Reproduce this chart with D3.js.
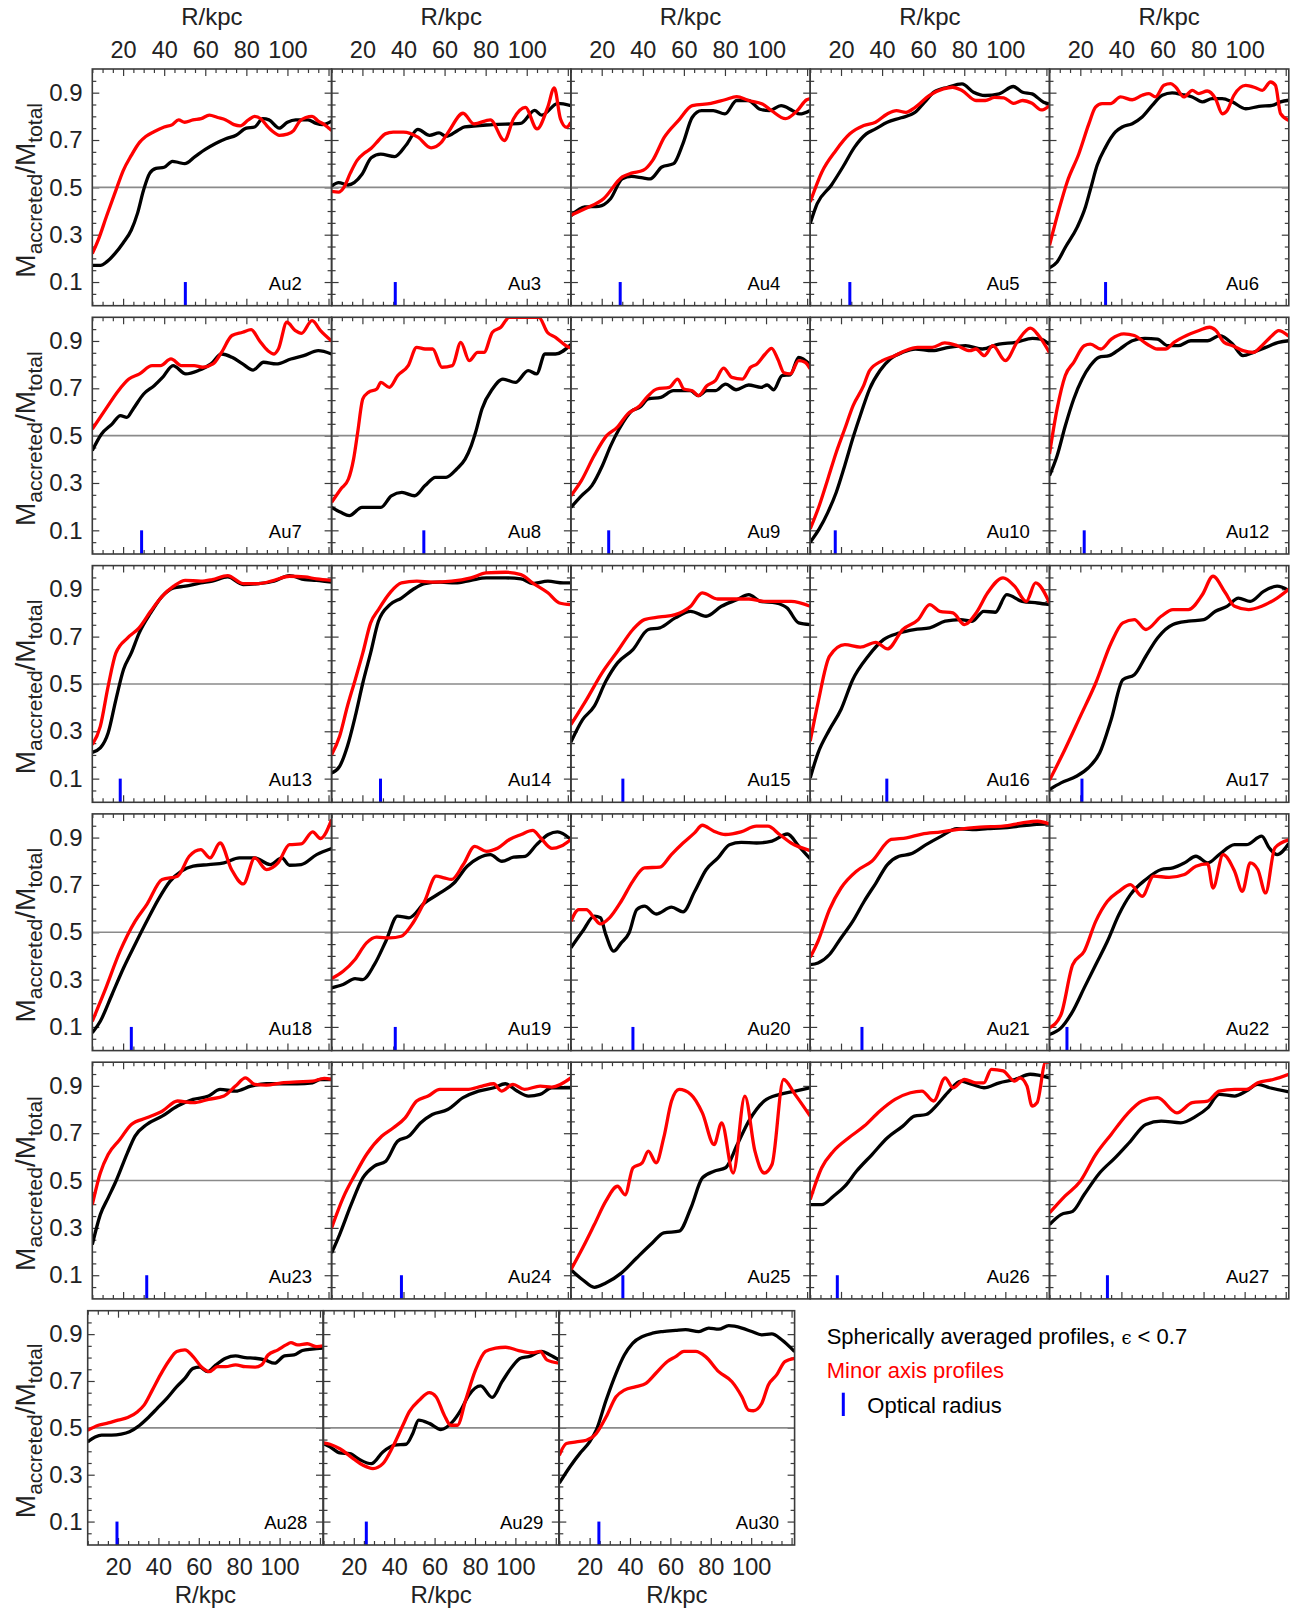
<!DOCTYPE html>
<html><head><meta charset="utf-8">
<script src="https://cdn.jsdelivr.net/npm/d3@7"></script>
<style>body{margin:0;background:#fff} svg{display:block}</style>
</head><body>
<script>
const halos = ["Au2","Au3","Au4","Au5","Au6","Au7","Au8","Au9","Au10","Au12","Au13","Au14","Au15","Au16","Au17","Au18","Au19","Au20","Au21","Au22","Au23","Au24","Au25","Au26","Au27","Au28","Au29","Au30"];
const opticalRadius = [50.3,36,29,24.3,32.3,29,49.9,23.4,17.2,21.9,18.6,28.8,30.3,42.3,20.8,24,36,35.2,30.2,13.5,31.5,39,30.3,18.2,33.2,19.5,26.2,24.6];
const xTickLabels = [20,40,60,80,100];
const yTickLabels = [0.1,0.3,0.5,0.7,0.9];

// Spherically averaged profiles (black): [R/kpc, Macc/Mtot]
const sphericalProfiles = [
[[5,.17],[9,.17],[12,.185],[16,.22],[20,.265],[24,.32],[27,.39],[30,.49],[33,.56],[36,.58],[40,.585],[44,.61],[47,.605],[50,.60],[55,.63],[60,.66],[65,.685],[70,.705],[75,.72],[80,.75],[84,.755],[88,.79],[91,.785],[96,.75],[100,.775],[104,.785],[110,.785],[114,.77],[117,.765],[121.5,.78]],
[[5,.505],[8.4,.52],[13,.51],[19.8,.555],[24.3,.625],[28.9,.64],[35.7,.63],[41.4,.68],[47,.745],[52.7,.72],[57.3,.73],[60.7,.715],[66.4,.74],[69.8,.755],[83.4,.765],[97,.77],[103.9,.825],[107.3,.805],[115.2,.855],[121.5,.845]],
[[5,.38],[11.8,.417],[18.6,.42],[24.3,.452],[30,.536],[34.5,.546],[40,.54],[43.6,.536],[49.3,.586],[55,.60],[59.5,.684],[64.1,.796],[68.6,.824],[74.3,.824],[80,.81],[85.7,.867],[91.4,.867],[97,.83],[101.6,.824],[107.3,.845],[113,.824],[116.4,.81],[121.5,.825]],
[[5,.347],[8.4,.431],[15.2,.508],[20.9,.586],[26.6,.67],[32.3,.726],[36.8,.747],[42.5,.775],[49.3,.794],[56.1,.817],[60.7,.86],[65.2,.902],[72,.923],[78.9,.937],[84.5,.902],[90.2,.888],[97,.895],[103.9,.926],[108.4,.902],[113,.895],[118.6,.86],[121.5,.852]],
[[5,.16],[8.7,.185],[12.8,.248],[18.5,.332],[22.5,.417],[25,.494],[28.2,.593],[32.3,.67],[37.1,.734],[40.4,.755],[45.3,.769],[50.1,.797],[55,.846],[59.9,.889],[64.7,.899],[69.6,.892],[74.5,.882],[79.4,.861],[84.2,.875],[89.1,.875],[94,.861],[100.5,.832],[107,.842],[113.4,.846],[117.5,.861],[121.5,.868]],
[[5,.437],[9.5,.507],[14.6,.549],[18.7,.585],[21.8,.577],[24.9,.613],[30,.676],[35.1,.711],[39.2,.746],[44.3,.796],[50.5,.761],[56.6,.775],[62.8,.803],[67.9,.845],[73,.831],[78.2,.803],[83.3,.777],[88.4,.81],[94.5,.803],[101.7,.824],[107.9,.838],[115,.859],[121.5,.845]],
[[5,.197],[9.5,.176],[13.6,.162],[19.8,.197],[23.9,.197],[29,.197],[34.1,.246],[39.2,.26],[45.4,.246],[50.5,.289],[55.6,.324],[60.7,.324],[65.9,.359],[70,.401],[73,.458],[75.1,.514],[78.2,.613],[83.3,.697],[88.4,.739],[94.5,.725],[100.7,.775],[104.8,.761],[108.9,.845],[114,.845],[121.5,.885]],
[[5,.197],[10.1,.246],[15.2,.289],[20.3,.373],[24.4,.458],[28.5,.528],[34.7,.605],[38.6,.62],[42.7,.655],[48.8,.662],[54.9,.69],[63.1,.69],[67.1,.669],[71.2,.69],[75.3,.69],[80.3,.718],[85.4,.694],[91.5,.714],[97.6,.704],[100.6,.714],[103.7,.694],[107.8,.754],[111.8,.757],[115.9,.831],[121.5,.80]],
[[5,.05],[9.4,.106],[13.6,.176],[17.7,.261],[21.8,.373],[25.9,.493],[29.9,.599],[33.9,.697],[39,.775],[44,.824],[50.1,.852],[56.2,.866],[64.4,.859],[72.5,.873],[80.6,.88],[88.8,.866],[96.9,.887],[105,.894],[113.2,.911],[117.2,.908],[121.5,.885]],
[[5,.331],[8.7,.415],[12.7,.542],[16.8,.655],[20.9,.739],[24.9,.796],[29,.831],[34.1,.838],[39.2,.866],[45.3,.901],[51.4,.911],[57.5,.908],[62.6,.88],[67.7,.88],[73.8,.901],[81.9,.901],[88,.923],[94.1,.887],[99.2,.838],[104.3,.852],[110.3,.873],[116.5,.894],[121.5,.901]],
[[5,.211],[8.9,.23],[12.7,.293],[16.5,.434],[20.2,.561],[24,.631],[27.8,.715],[33.4,.80],[39,.87],[44.6,.906],[50.3,.913],[57.8,.927],[63.4,.934],[70.9,.952],[78.4,.92],[86,.924],[93.5,.934],[101,.958],[108.5,.941],[114.1,.938],[121.5,.93]],
[[5,.124],[8.9,.152],[12.7,.237],[16.5,.363],[20.2,.504],[24,.631],[27.8,.765],[33.4,.835],[39,.863],[44.6,.899],[50.3,.924],[57.8,.93],[65.3,.927],[72.8,.938],[80.3,.948],[89.7,.948],[97.2,.944],[102.8,.924],[110.3,.934],[117.8,.927],[121.5,.927]],
[[5,.254],[10.7,.349],[16.4,.406],[22,.511],[27.7,.589],[35.2,.645],[42.7,.73],[48.3,.737],[55.8,.779],[63.3,.807],[70.8,.786],[78.3,.828],[85.8,.856],[91.6,.877],[97.2,.849],[104.7,.842],[110.3,.821],[115.9,.758],[121.5,.751]],
[[5,.103],[8.8,.208],[14.4,.307],[20,.392],[25.7,.518],[33.2,.617],[40.7,.687],[48.2,.715],[55.7,.73],[63.2,.737],[70.7,.765],[78.2,.772],[83.8,.765],[89.5,.807],[95.1,.803],[100.7,.877],[108.2,.849],[115.7,.842],[121.5,.835]],
[[5,.054],[10.6,.082],[18.1,.11],[23.8,.145],[29.4,.208],[35,.349],[40.7,.518],[46.3,.539],[51.9,.617],[57.6,.694],[65.1,.751],[72.6,.765],[80.1,.772],[85.8,.807],[91.4,.828],[97,.863],[102.7,.849],[109.4,.892],[115.8,.913],[121.5,.895]],
[[5,.075],[8.9,.124],[14.6,.237],[20.2,.349],[25.8,.448],[31.5,.546],[37.1,.638],[42.8,.715],[48.4,.758],[54.1,.779],[61.6,.786],[69.1,.793],[76.6,.814],[84.1,.814],[91.6,.786],[97.3,.814],[101,.783],[106.7,.786],[114.2,.828],[121.5,.854]],
[[5,.265],[10.6,.279],[16.4,.304],[20.1,.30],[25.8,.363],[31.4,.462],[37.1,.568],[42.7,.561],[50.3,.624],[57.8,.666],[64.6,.708],[71,.779],[76.6,.814],[82.3,.828],[87.9,.80],[93.6,.817],[99.2,.821],[104.8,.87],[110.5,.913],[115,.924],[121.5,.892]],
[[5,.434],[10.7,.504],[16.4,.568],[19.4,.561],[22,.49],[25.8,.42],[29.5,.455],[33.3,.497],[37.1,.596],[40.8,.61],[46.5,.577],[54,.606],[59.6,.586],[65.3,.673],[70.9,.765],[76.6,.814],[82.2,.87],[87.9,.88],[95.4,.877],[102.9,.885],[110.4,.915],[116,.863],[121.5,.81]],
[[5,.363],[8.8,.37],[14.4,.406],[20,.476],[25.7,.546],[31.3,.631],[37,.708],[42.6,.786],[48.2,.821],[53.9,.831],[61.4,.87],[68.9,.906],[76.4,.938],[83.9,.934],[91.4,.938],[98.9,.941],[106.4,.948],[113.9,.955],[121.5,.958]],
[[5,.068],[10.6,.096],[16.3,.166],[21.9,.265],[27.5,.363],[33.2,.462],[38.8,.575],[44.4,.659],[51.9,.723],[59.4,.765],[65.1,.772],[70.7,.793],[76.3,.821],[82,.793],[87.6,.828],[95.1,.87],[100.8,.87],[108.3,.906],[112,.856],[115.8,.828],[121.5,.875]],
[[5,.229],[8.9,.356],[12.7,.427],[16.5,.497],[22.1,.617],[25.8,.688],[31.5,.737],[39,.772],[46.5,.815],[54.1,.843],[61.6,.857],[67.2,.885],[74.7,.878],[82.2,.899],[89.7,.909],[97.2,.909],[104.7,.909],[112.2,.913],[116,.927],[121.5,.927]],
[[5,.194],[8.9,.272],[14.5,.398],[20.2,.511],[25.8,.561],[31.4,.582],[37.1,.666],[42.7,.688],[48.4,.744],[54,.779],[61.5,.80],[69,.85],[76.5,.878],[84,.892],[89.6,.909],[95.3,.878],[100.9,.857],[106.5,.864],[112.2,.892],[121.5,.892]],
[[5,.123],[10.7,.081],[16.4,.049],[22,.067],[29.5,.109],[37,.173],[44.6,.236],[50.2,.279],[57.7,.286],[63.4,.384],[69,.511],[74.7,.539],[80.3,.554],[86,.652],[91.6,.751],[99.1,.836],[106.6,.864],[114.2,.878],[121.5,.892]],
[[5,.398],[10.6,.398],[16.3,.434],[21.9,.476],[27.5,.539],[35.1,.61],[42.6,.681],[50.1,.73],[55.7,.772],[61.4,.779],[67,.822],[72.6,.878],[78.3,.92],[83.9,.906],[89.6,.892],[97.1,.913],[104.6,.927],[112.1,.949],[121.5,.934]],
[[5,.314],[10.6,.356],[16.3,.37],[21.9,.441],[29.4,.532],[36.9,.596],[44.4,.666],[51.9,.737],[59.4,.751],[68.9,.744],[76.4,.772],[82,.807],[87.6,.864],[95.2,.857],[100.8,.878],[106.4,.906],[112.1,.892],[121.5,.875]],
[[5,.44],[8.7,.461],[11.9,.469],[16.8,.469],[21.6,.473],[25.7,.483],[29.7,.504],[34.5,.54],[39.4,.583],[44.2,.626],[49.1,.676],[53.1,.711],[57.2,.754],[60.4,.759],[64.4,.74],[68.5,.769],[73.3,.797],[78.2,.807],[83,.80],[87.9,.797],[92.7,.79],[97.5,.776],[102.4,.807],[107.2,.811],[111.3,.83],[116.1,.836],[121.5,.84]],
[[5,.433],[8.2,.419],[13.1,.393],[18,.39],[23,.364],[28.7,.347],[34.4,.397],[40.2,.426],[45.9,.43],[49.2,.476],[52.1,.533],[57.4,.519],[63.1,.493],[68.9,.526],[73,.576],[77,.64],[82.8,.679],[88.5,.63],[93.4,.697],[98.4,.761],[102.5,.797],[106.6,.804],[113.1,.826],[117.2,.811],[121.5,.79]],
[[5,.264],[10.2,.333],[15.1,.39],[20,.44],[23.3,.49],[28.2,.619],[33.1,.733],[37.2,.811],[41.3,.861],[46.2,.89],[51.1,.904],[56.1,.911],[62.6,.916],[67.5,.919],[74.1,.911],[79,.926],[83.9,.921],[88.9,.936],[95.4,.926],[100.3,.911],[105.2,.897],[110.2,.901],[115.1,.876],[121.5,.825]]
];

// Minor axis profiles (red): [R/kpc, Macc/Mtot]
const minorAxisProfiles = [
[[5,.22],[8,.28],[12,.38],[17,.50],[20,.57],[24,.635],[28,.69],[31,.715],[35,.735],[40,.755],[44,.765],[47,.785],[50,.775],[54,.785],[58,.79],[62,.805],[66,.795],[70,.785],[74,.765],[77,.76],[81,.785],[84,.80],[87,.79],[90,.76],[93,.735],[96,.72],[100,.725],[103,.74],[106,.78],[109,.795],[112,.80],[115,.78],[118,.765],[121.5,.74]],
[[5,.483],[8.4,.48],[11,.50],[14.1,.56],[17.5,.615],[21,.645],[24.3,.665],[28,.70],[31.1,.726],[35,.733],[40,.733],[47,.712],[53.4,.667],[58.4,.69],[61.8,.733],[69,.813],[74.3,.768],[82.3,.785],[89.1,.698],[93.6,.79],[99.3,.838],[105,.747],[110.2,.838],[113.4,.92],[116.4,.79],[119.3,.754],[121.5,.775]],
[[5,.382],[11.8,.41],[20.9,.452],[30,.544],[34.5,.56],[40.2,.572],[44.8,.614],[50.5,.712],[57.3,.782],[64.1,.845],[73.2,.855],[80,.87],[85.7,.883],[91.4,.867],[98.2,.852],[102.7,.824],[109.5,.79],[115.2,.824],[119.8,.87],[121.5,.875]],
[[5,.438],[10.7,.565],[17.5,.656],[24.3,.726],[31.1,.761],[36.8,.775],[42.5,.81],[47,.824],[51.6,.817],[56.1,.838],[62.9,.888],[69.8,.916],[74.3,.923],[78.9,.909],[85.7,.867],[90.2,.867],[94.8,.88],[99.3,.878],[103.9,.855],[108.4,.867],[113,.855],[117.5,.827],[121.5,.845]],
[[5,.255],[9.5,.403],[13.6,.523],[19.3,.642],[24.2,.769],[27.4,.839],[30.6,.854],[34.7,.854],[39.6,.882],[45.3,.87],[50.1,.889],[53.4,.896],[56.6,.882],[60.7,.931],[64,.938],[66.4,.924],[70.4,.882],[74.5,.91],[77.7,.896],[81.8,.907],[85.8,.875],[89.1,.811],[91.5,.825],[94.8,.889],[100.5,.931],[105.3,.921],[108.6,.91],[112.6,.945],[115,.931],[117.5,.811],[121.5,.783]],
[[5,.528],[11.6,.613],[17.7,.69],[22.8,.739],[28,.761],[34.1,.796],[38.2,.796],[43.3,.824],[48.4,.796],[54.6,.796],[58.7,.789],[63.8,.803],[67.9,.852],[73,.923],[78.2,.937],[82.3,.948],[86.4,.901],[90.5,.859],[93.5,.845],[95.6,.866],[99.7,.979],[103.8,.944],[106.8,.932],[112,.986],[116.1,.944],[121.5,.90]],
[[5,.218],[9.5,.275],[13.2,.317],[15.7,.401],[17.7,.514],[20.2,.655],[22.9,.683],[27,.697],[29,.725],[33.1,.704],[37.2,.754],[42.3,.796],[46.4,.873],[50.5,.866],[54.2,.866],[58.7,.789],[63.8,.796],[67.9,.894],[72,.817],[76.1,.852],[79.2,.852],[83.3,.937],[87.4,.958],[91.5,1.0],[105.9,1.0],[110,.937],[114,.915],[119.1,.88],[121.5,.87]],
[[5,.246],[10.1,.31],[16.3,.415],[22.4,.5],[27.5,.535],[32.7,.592],[38.6,.627],[42.7,.669],[46.8,.697],[52.9,.704],[57,.739],[60,.697],[64.1,.69],[67.1,.669],[71.2,.711],[75.3,.732],[79.3,.785],[83.4,.746],[88.5,.739],[92.5,.789],[95.6,.803],[99.6,.845],[102.7,.869],[105.7,.824],[108.8,.765],[111.8,.761],[115.9,.817],[119,.81],[121.5,.782]],
[[5,.106],[9.4,.204],[13.6,.317],[17.7,.43],[21.8,.528],[25.9,.627],[31,.711],[33.9,.775],[40.1,.817],[46.2,.838],[51.2,.859],[57.3,.873],[64.4,.873],[70.5,.892],[76.6,.88],[82.7,.859],[85.7,.866],[89.8,.838],[93.9,.88],[100,.817],[106.1,.901],[112.2,.954],[116.2,.923],[121.5,.85]],
[[5,.423],[8.7,.613],[12.7,.754],[16.8,.81],[21.9,.88],[24.9,.887],[30,.866],[35.1,.908],[41.2,.93],[46.3,.923],[52.4,.887],[57.5,.866],[61.5,.866],[65.6,.894],[71.7,.923],[77.8,.944],[82.9,.958],[86,.944],[90,.894],[94.1,.88],[99.2,.859],[104.3,.852],[108.4,.88],[113.4,.923],[116.5,.944],[121.5,.92]],
[[5,.244],[8.9,.321],[12.7,.49],[16.5,.631],[22.1,.694],[27.8,.737],[33.4,.807],[39,.87],[44.6,.913],[50.3,.938],[57.8,.934],[63.4,.941],[70.9,.958],[78.4,.924],[86,.924],[93.5,.938],[101,.955],[108.5,.952],[114.1,.944],[121.5,.938]],
[[5,.201],[8.9,.279],[12.7,.406],[16.5,.518],[20.2,.631],[24,.758],[27.8,.814],[33.4,.885],[39,.927],[46.5,.934],[54.1,.93],[63.4,.934],[72.8,.948],[80.3,.969],[89.7,.972],[97.2,.962],[102.8,.927],[110.3,.885],[115.9,.842],[121.5,.835]],
[[5,.328],[12.6,.434],[20.1,.546],[27.7,.638],[35.2,.73],[40.8,.772],[48.3,.783],[55.8,.793],[63.3,.828],[68.9,.885],[76.4,.859],[83.9,.859],[91.6,.859],[99,.849],[106.5,.849],[112.2,.849],[121.5,.828]],
[[5,.258],[8.8,.42],[14.4,.617],[21.9,.666],[29.4,.656],[36.9,.676],[42.6,.648],[50.1,.73],[57.6,.772],[63.2,.835],[68.1,.807],[74.5,.80],[80.1,.751],[85.8,.80],[91.4,.885],[98.9,.948],[104.5,.913],[110.2,.849],[114.7,.927],[121.5,.842]],
[[5,.093],[12.5,.223],[20,.363],[27.5,.504],[35,.673],[40.7,.758],[46.3,.772],[51.9,.73],[59.4,.786],[65.1,.814],[72.6,.814],[79.4,.877],[84.6,.955],[90.6,.885],[95.1,.828],[101.9,.814],[108.3,.828],[115.8,.863],[121.5,.90]],
[[5,.124],[11,.251],[18.5,.42],[25.8,.546],[31.5,.617],[39,.723],[46.5,.737],[52.2,.821],[57.8,.849],[62.3,.814],[67.2,.877],[72.8,.765],[78.5,.704],[84.1,.814],[89.8,.765],[95.4,.793],[101,.87],[106.7,.873],[112.3,.924],[116.1,.896],[121.5,.976]],
[[5,.304],[10.6,.335],[16.4,.385],[22,.455],[26.9,.479],[33.3,.476],[38.9,.483],[44.6,.539],[50.3,.631],[55.9,.737],[59.7,.73],[63.4,.723],[69.1,.786],[74.7,.863],[80.4,.842],[86,.856],[91.6,.892],[97.3,.913],[102.9,.93],[106.7,.899],[112.3,.854],[116.8,.864],[121.5,.892]],
[[5,.546],[8.8,.596],[12.5,.596],[16.3,.561],[19.3,.535],[23.8,.561],[29.5,.631],[35.1,.715],[40.8,.772],[48.3,.775],[53.9,.828],[59.6,.877],[65.2,.92],[69,.952],[74.6,.927],[80.2,.913],[87.8,.924],[95.3,.948],[100.9,.948],[106.6,.913],[112.2,.877],[121.5,.845]],
[[5,.394],[8.8,.462],[14.4,.596],[20,.687],[27.5,.758],[35,.80],[44.4,.892],[51.9,.899],[59.4,.915],[68.8,.924],[76.3,.934],[87.6,.944],[98.9,.948],[108.2,.962],[115.7,.969],[121.5,.958]],
[[5,.096],[10.6,.152],[16.3,.363],[21.9,.42],[27.5,.546],[33.2,.631],[38.8,.673],[44.4,.701],[50.1,.652],[55.7,.737],[63.2,.732],[70.7,.744],[76.3,.779],[82,.789],[84.6,.687],[89.5,.828],[95.1,.758],[98.9,.673],[102.7,.793],[106.4,.765],[110.2,.666],[114.7,.856],[121.5,.89]],
[[5,.398],[8.9,.532],[12.7,.61],[18.4,.673],[24,.737],[31.5,.765],[39,.793],[46.5,.836],[54.1,.829],[61.6,.843],[69.1,.857],[74.7,.899],[79.6,.934],[84.1,.906],[89.7,.903],[97.2,.913],[104.7,.917],[112.2,.92],[117.9,.932],[121.5,.927]],
[[5,.30],[10.6,.427],[16.4,.525],[22,.61],[29.5,.688],[35.1,.723],[40.8,.765],[46.4,.836],[52,.857],[57.7,.885],[63.3,.885],[70.8,.885],[78.3,.899],[83.9,.909],[87.7,.878],[93.3,.906],[98.9,.885],[106.5,.899],[112.2,.895],[121.5,.934]],
[[5,.123],[10.7,.215],[16.4,.314],[22,.413],[27.7,.476],[31.4,.44],[35.2,.554],[39.7,.575],[42.7,.624],[46.5,.575],[50.2,.681],[54,.836],[57.7,.885],[63.4,.864],[69,.786],[74.7,.652],[78.4,.744],[84,.532],[89.7,.857],[94.6,.624],[99.1,.532],[102.9,.568],[108.5,.927],[114.1,.864],[121.5,.772]],
[[5,.42],[10.6,.554],[16.3,.624],[23.8,.681],[31.3,.73],[38.8,.793],[46.3,.843],[53.8,.871],[59.4,.878],[65.1,.836],[70.7,.934],[74.5,.892],[80.1,.927],[85.7,.913],[89.5,.913],[93.2,.97],[98.9,.963],[104.5,.92],[107.1,.934],[110.5,.90],[113,.815],[115.5,.83],[119.6,1.0],[121.5,1.0]],
[[5,.363],[12.5,.434],[20,.497],[27.5,.61],[35,.695],[42.6,.779],[50.1,.836],[57.6,.85],[67,.786],[74.5,.829],[82,.836],[87.6,.878],[95.2,.885],[100.8,.885],[106.4,.913],[113.9,.927],[121.5,.949]],
[[5,.49],[10.3,.511],[15.2,.521],[20,.533],[24.8,.544],[29.7,.569],[32.9,.597],[37,.661],[41,.726],[45,.783],[49.1,.826],[53.1,.833],[57.2,.804],[61.2,.761],[65.2,.74],[69.3,.761],[73.3,.761],[78.2,.769],[83,.761],[87.9,.759],[91.1,.769],[94.3,.811],[99.2,.833],[103.2,.854],[105.6,.864],[108.9,.854],[113.7,.859],[118.5,.847],[121.5,.85]],
[[5,.436],[8.2,.43],[13.1,.411],[19.7,.369],[24.6,.34],[29.5,.326],[34.4,.347],[39.3,.419],[44.3,.511],[47.5,.569],[52.5,.619],[57.4,.65],[60.7,.633],[64.8,.554],[68,.511],[71.3,.511],[75.4,.619],[80.3,.747],[85.2,.826],[90.2,.84],[95.1,.844],[101.6,.83],[108.2,.821],[112.3,.826],[115.6,.79],[121.5,.776]],
[[5,.383],[8.5,.433],[13.4,.44],[18.4,.447],[23.3,.476],[28.2,.547],[33.1,.633],[37.2,.661],[43,.676],[47.9,.69],[52.8,.733],[58.5,.783],[62.6,.804],[66.7,.826],[72.5,.826],[77.4,.804],[83.9,.74],[90.5,.697],[95.4,.633],[98.7,.576],[101.1,.573],[105.2,.604],[108.5,.683],[112.6,.726],[116.7,.783],[121.5,.797]]
];

const FONT = "'Liberation Sans', Arial, Helvetica, sans-serif";
const W = 1295, H = 1612;
const svg = d3.select("body").append("svg").attr("width", W).attr("height", H)
  .style("font-family", FONT);

const colLeft = [92.3, 331.6, 570.9, 810.2, 1049.5], panelW = 239.3, panelH = 236.7;
const rowTop = [69, 317.3, 565.6, 813.9, 1062.2];
const lastLeft = [87.7, 323.5, 559.3], lastW = 235.3, lastTop = 1310.7, lastH = 234.3;
const xMinor = d3.range(5, 121, 5), xMajor = [20, 40, 60, 80, 100, 120];
const yMinor = d3.range(1, 20).map(d => d * 0.05), yMajor = yTickLabels;
const FRAME = "#3a3a3a";

function styleAxis(g, fs) {
  g.select(".domain").remove();
  g.selectAll(".tick line").attr("stroke", FRAME).attr("stroke-width", 1.2);
  g.attr("font-family", FONT).attr("font-size", fs || 24);
  g.selectAll(".tick text").attr("fill", "#222");
}

halos.forEach((name, i) => {
  let r, c, x0, y0, w, h;
  if (i < 25) { r = Math.floor(i / 5); c = i % 5; x0 = colLeft[c]; y0 = rowTop[r]; w = panelW; h = panelH; }
  else { r = 5; c = i - 25; x0 = lastLeft[c]; y0 = lastTop; w = lastW; h = lastH; }
  const x = d3.scaleLinear().domain([5, 121.5]).range([x0, x0 + w]);
  const y = d3.scaleLinear().domain([0, 1]).range([y0 + h, y0]);
  const g = svg.append("g");

  const cid = "clip" + i;
  svg.append("clipPath").attr("id", cid).append("rect")
    .attr("x", x0).attr("y", y0).attr("width", w).attr("height", h);

  // ticks (inward) via d3 axes
  const top = r === 0;
  const bottomLabels = r === 5;
  [[d3.axisBottom, y0 + h, !bottomLabels], [d3.axisTop, y0, !top]].forEach(([ax, ty, noLab]) => {
    const gm = g.append("g").attr("transform", `translate(0,${ty})`)
      .call(ax(x).tickValues(xMinor.filter(v => !xMajor.includes(v))).tickSize(-4).tickFormat(""));
    styleAxis(gm);
    const ga = g.append("g").attr("transform", `translate(0,${ty})`)
      .call(ax(x).tickValues(xMajor).tickSize(-7)
        .tickPadding(ax === d3.axisTop ? 10.7 : 13)
        .tickFormat(v => (noLab || !xTickLabels.includes(v)) ? "" : v));
    styleAxis(ga, 23.5);
  });
  [[d3.axisLeft, x0, c !== 0], [d3.axisRight, x0 + w, true]].forEach(([ax, tx, noLab]) => {
    const gm = g.append("g").attr("transform", `translate(${tx},0)`)
      .call(ax(y).tickValues(yMinor.filter(v => !yMajor.some(m => Math.abs(m - v) < 1e-6))).tickSize(-4).tickFormat(""));
    styleAxis(gm);
    const ga = g.append("g").attr("transform", `translate(${tx},0)`)
      .call(ax(y).tickValues(yMajor).tickSize(-7).tickPadding(92.3 - 82.5 - (92.3 - x0) + (92.3 - x0) * 0 )
        .tickFormat(v => noLab ? "" : d3.format(".1f")(v)));
    styleAxis(ga, 24);
    if (!noLab) ga.selectAll(".tick text").attr("x", -(x0 - 82.5));
  });

  // 0.5 reference line
  g.append("line").attr("x1", x0).attr("x2", x0 + w).attr("y1", y(0.5)).attr("y2", y(0.5))
    .attr("stroke", "#8a8a8a").attr("stroke-width", 1.6);

  const line = d3.line().x(d => x(d[0])).y(d => y(d[1])).curve(d3.curveMonotoneX);
  const lg = g.append("g").attr("clip-path", `url(#${cid})`);
  lg.append("path").attr("d", line(sphericalProfiles[i])).attr("fill", "none")
    .attr("stroke", "#000").attr("stroke-width", 3.3).attr("stroke-linejoin", "round");
  lg.append("path").attr("d", line(minorAxisProfiles[i])).attr("fill", "none")
    .attr("stroke", "#ff0000").attr("stroke-width", 3.3).attr("stroke-linejoin", "round");

  // optical radius
  g.append("line").attr("x1", x(opticalRadius[i])).attr("x2", x(opticalRadius[i]))
    .attr("y1", y(0)).attr("y2", y(0.1)).attr("stroke", "#0000ff").attr("stroke-width", 3);

  // frame
  g.append("rect").attr("x", x0).attr("y", y0).attr("width", w).attr("height", h)
    .attr("fill", "none").attr("stroke", FRAME).attr("stroke-width", 1.6);

  // halo label
  g.append("text").attr("x", x0 + 176.5).attr("y", y0 + h - 16)
    .attr("font-size", 18.5).attr("fill", "#000").text(name);

  // axis titles
  if (top) {
    svg.append("text").attr("x", x0 + w / 2).attr("y", 25).attr("text-anchor", "middle")
      .attr("font-size", 24).attr("fill", "#222").text("R/kpc");
  }
  if (bottomLabels) {
    svg.append("text").attr("x", x0 + w / 2).attr("y", 1603).attr("text-anchor", "middle")
      .attr("font-size", 24).attr("fill", "#222").text("R/kpc");
  }
  if (c === 0) {
    const t = svg.append("text")
      .attr("transform", `translate(35,${y0 + h / 2 + 3}) rotate(-90)`)
      .attr("text-anchor", "middle").attr("font-size", 28).attr("fill", "#222");
    t.append("tspan").text("M");
    t.append("tspan").attr("font-size", 21).attr("dy", 7).text("accreted");
    t.append("tspan").attr("dy", -7).text("/M");
    t.append("tspan").attr("font-size", 21).attr("dy", 7).text("total");
  }
});

// legend
const leg = svg.append("g").attr("font-size", 22);
const t1 = leg.append("text").attr("x", 826.7).attr("y", 1344.3).attr("fill", "#000");
t1.append("tspan").text("Spherically averaged profiles, ");
t1.append("tspan").attr("font-family", "'DejaVu Serif', serif").attr("font-size", 18).text("\u03F5");
t1.append("tspan").text(" < 0.7");
leg.append("text").attr("x", 826.7).attr("y", 1377.7).attr("fill", "#ff0000").text("Minor axis profiles");
leg.append("line").attr("x1", 843.3).attr("x2", 843.3).attr("y1", 1392.7).attr("y2", 1416)
  .attr("stroke", "#0000ff").attr("stroke-width", 3);
leg.append("text").attr("x", 867.3).attr("y", 1412.7).attr("fill", "#000").text("Optical radius");
</script>
</body></html>
